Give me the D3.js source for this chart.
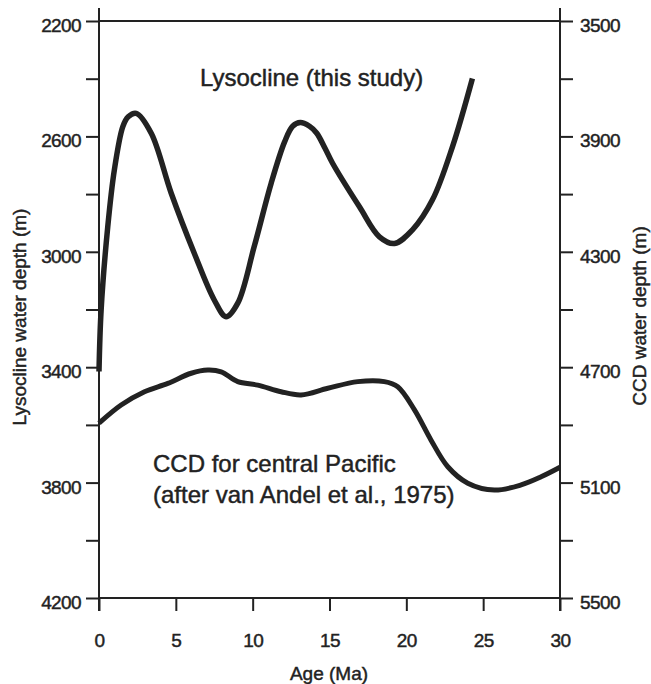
<!DOCTYPE html>
<html>
<head>
<meta charset="utf-8">
<script src="https://cdn.jsdelivr.net/npm/d3@7"></script>
<style>
  body { margin: 0; background: #fff; }
  text { font-family: "Liberation Sans", Arial, sans-serif; fill: #222; stroke: #222; stroke-width: 0.45px; }
</style>
</head>
<body>
<div id="chart"></div>
<script>
// Lysocline (this study), left axis, water depth in m
const lysoAge = [0, 0.14, 0.57, 1.0, 1.55, 1.9, 2.42, 3.4, 4.7, 6.2, 7.5, 8.27, 9.03, 10.1, 11.2, 12.07, 12.6, 13.1, 13.7, 14.16, 14.7, 15.2, 16.95, 18.25, 19.23, 20.4, 21.7, 23.0, 24.3];
const lysoDepth = [3415, 3200, 2913, 2716, 2566, 2532, 2520, 2589, 2797, 3005, 3167, 3225, 3178, 2982, 2763, 2620, 2565, 2552, 2565, 2588, 2640, 2693, 2844, 2948, 2971, 2924, 2820, 2636, 2399];

// CCD for central Pacific (van Andel et al., 1975), right axis
const ccdAge = [0, 1.44, 2.96, 4.48, 6.0, 7.08, 7.95, 9.03, 10.33, 11.85, 13.15, 14.89, 16.84, 18.57, 19.44, 20.53, 21.6, 22.7, 24.0, 25.73, 27.47, 28.77, 30];
const ccdDepth = [4894, 4831, 4785, 4756, 4721, 4710, 4716, 4750, 4762, 4785, 4796, 4773, 4750, 4750, 4768, 4848, 4952, 5045, 5102, 5126, 5108, 5080, 5047];

const ageTicks = [0, 5, 10, 15, 20, 25, 30];
const lysoTicks = d3.range(2200, 4201, 200);
const ccdTicks = d3.range(3500, 5501, 200);

const width = 651, height = 684;
const mLeft = 99, mRight = 560, mTop = 21, mBottom = 598;
const ink = '#222';

const svg = d3.select('#chart').append('svg')
    .attr('width', width)
    .attr('height', height);

const x = d3.scaleLinear().domain([0, 30]).range([mLeft, mRight]);
const yL = d3.scaleLinear().domain([2200, 4200]).range([mTop, mBottom]);
const yR = d3.scaleLinear().domain([3500, 5500]).range([mTop, mBottom]);

// frame
const frame = svg.append('g').attr('stroke', ink).attr('stroke-width', 2);
frame.append('line').attr('x1', mLeft).attr('x2', mLeft).attr('y1', 8).attr('y2', 611);
frame.append('line').attr('x1', mRight).attr('x2', mRight).attr('y1', 8).attr('y2', 611);
frame.append('line').attr('x1', mLeft).attr('x2', mRight).attr('y1', mTop).attr('y2', mTop);
frame.append('line').attr('x1', mLeft).attr('x2', mRight).attr('y1', mBottom).attr('y2', mBottom);

function styleAxis(g) {
    g.select('.domain').remove();
    g.selectAll('.tick line').attr('stroke', ink).attr('stroke-width', 2);
    g.selectAll('.tick text')
        .attr('fill', ink)
        .style('font-size', '19px')
        .style('letter-spacing', '-0.6px')
        .style('font-family', '"Liberation Sans", Arial, sans-serif');
}

svg.append('g')
    .attr('transform', `translate(${mLeft},0)`)
    .call(d3.axisLeft(yL).tickValues(lysoTicks).tickSize(13).tickPadding(5)
        .tickFormat((d) => ((d - 2200) % 400 === 0 ? d : '')))
    .call(styleAxis)
    .call((g) => g.selectAll('.tick text').attr('dy', '0.55em'));

svg.append('g')
    .attr('transform', `translate(${mRight},0)`)
    .call(d3.axisRight(yR).tickValues(ccdTicks).tickSize(13).tickPadding(7)
        .tickFormat((d) => ((d - 3500) % 400 === 0 ? d : '')))
    .call(styleAxis)
    .call((g) => g.selectAll('.tick text').attr('dy', '0.55em'));

svg.append('g')
    .attr('transform', `translate(0,${mBottom})`)
    .call(d3.axisBottom(x).tickValues(ageTicks).tickSize(13).tickPadding(23))
    .call(styleAxis);

// curves
const lysoLine = d3.line()
    .x((d, i) => x(lysoAge[i]))
    .y((d) => yL(d))
    .curve(d3.curveCatmullRom.alpha(0.5));

const ccdLine = d3.line()
    .x((d, i) => x(ccdAge[i]))
    .y((d) => yR(d))
    .curve(d3.curveCatmullRom.alpha(0.5));

svg.append('path')
    .datum(lysoDepth)
    .attr('d', lysoLine)
    .attr('fill', 'none')
    .attr('stroke', ink)
    .attr('stroke-width', 5.5)
    .attr('stroke-linejoin', 'round');

svg.append('path')
    .datum(ccdDepth)
    .attr('d', ccdLine)
    .attr('fill', 'none')
    .attr('stroke', ink)
    .attr('stroke-width', 5)
    .attr('stroke-linejoin', 'round');

// labels
svg.append('text')
    .attr('x', 200).attr('y', 86)
    .style('font-size', '24px')
    .text('Lysocline (this study)');

svg.append('text')
    .attr('x', 153).attr('y', 472)
    .style('font-size', '24px')
    .text('CCD for central Pacific');

svg.append('text')
    .attr('x', 153).attr('y', 503)
    .style('font-size', '24px')
    .text('(after van Andel et al., 1975)');

svg.append('text')
    .attr('x', 329).attr('y', 680)
    .attr('text-anchor', 'middle')
    .style('font-size', '19px')
    .text('Age (Ma)');

svg.append('text')
    .attr('transform', 'translate(26,317) rotate(-90)')
    .attr('text-anchor', 'middle')
    .style('font-size', '19px')
    .text('Lysocline water depth (m)');

svg.append('text')
    .attr('transform', 'translate(646,316) rotate(-90)')
    .attr('text-anchor', 'middle')
    .style('font-size', '19px')
    .text('CCD water depth (m)');
</script>
</body>
</html>
